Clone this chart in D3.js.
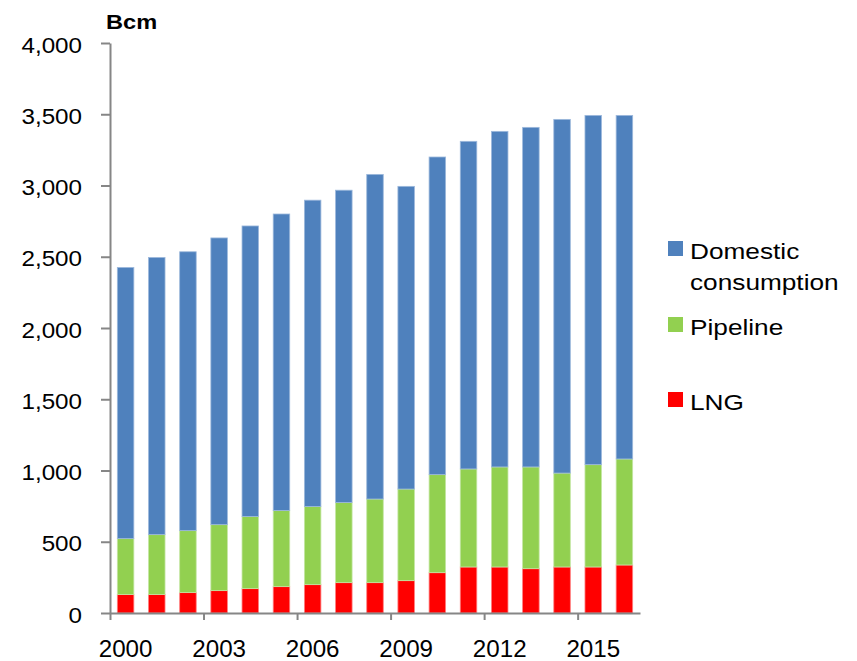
<!DOCTYPE html>
<html>
<head>
<meta charset="utf-8">
<script src="https://cdn.jsdelivr.net/npm/d3@7"></script>
<style>
  html, body { margin: 0; padding: 0; background: #fff; }
  svg { display: block; font-family: Arial, "Liberation Sans", sans-serif; }
</style>
</head>
<body>
<svg id="chart" width="857" height="661"></svg>
<script>
// Gas supply breakdown, billion cubic metres
const years = ["2000","2001","2002","2003","2004","2005","2006","2007","2008",
               "2009","2010","2011","2012","2013","2014","2015","2016"];
const lng      = [130, 130, 143, 157, 171, 185, 199, 213, 213, 227, 283, 323, 323, 311, 323, 323, 337];
const pipeline = [392, 420, 435, 463, 506, 534, 548, 562, 587, 643, 688, 688, 702, 714, 659, 718, 744];
const domestic = [1903, 1945, 1957, 2012, 2039, 2081, 2150, 2192, 2278, 2124, 2229, 2299, 2355, 2383, 2482, 2451, 2411];
const yTicks = [0, 500, 1000, 1500, 2000, 2500, 3000, 3500, 4000];
const xLabelYears = ["2000", "2003", "2006", "2009", "2012", "2015"];

const seriesKeys   = ["LNG", "Pipeline", "Domestic"];
const seriesColors = { LNG: "#FF0000", Pipeline: "#92D050", Domestic: "#4F81BD" };
const seriesEdges  = { LNG: "#FF7F7F", Pipeline: "#C4E6A4", Domestic: "#9DB9DC" };
const legendItems  = [
  { key: "Domestic", lines: ["Domestic", "consumption"] },
  { key: "Pipeline", lines: ["Pipeline"] },
  { key: "LNG",      lines: ["LNG"] }
];

const rows = years.map((yr, i) => ({ year: yr, LNG: lng[i], Pipeline: pipeline[i], Domestic: domestic[i] }));
const stacked = d3.stack().keys(seriesKeys)(rows);

const svg = d3.select("#chart");
const plotLeft = 110, plotRight = 640, plotTop = 43, plotBottom = 613;
const axisColor = "#868686";

const x = d3.scaleBand().domain(years).range([plotLeft, plotRight]).paddingInner(0.47).paddingOuter(0.235);
const xIdx = d3.scaleLinear().domain([0, years.length]).range([plotLeft, plotRight]);
const y = d3.scaleLinear().domain([0, 4000]).range([plotBottom, plotTop]);

// Stacked bars
svg.append("g").selectAll("g")
  .data(stacked).join("g")
    .attr("fill", d => seriesColors[d.key])
    .attr("stroke", d => seriesEdges[d.key])
    .attr("stroke-width", 0.8)
  .selectAll("rect")
  .data(d => d).join("rect")
    .attr("x", d => x(d.data.year))
    .attr("width", x.bandwidth())
    .attr("y", d => y(d[1]))
    .attr("height", d => y(d[0]) - y(d[1]));

// Y axis
const yAxis = svg.append("g")
  .attr("transform", `translate(${plotLeft},0)`)
  .call(d3.axisLeft(y).tickValues(yTicks).tickSize(9).tickSizeOuter(0).tickFormat(d3.format(",")));
yAxis.select(".domain").attr("stroke", axisColor).attr("stroke-width", 2);
yAxis.selectAll(".tick line").attr("stroke", axisColor).attr("stroke-width", 2);
yAxis.selectAll(".tick text")
  .attr("x", null)
  .attr("dy", "0.42em")
  .attr("transform", "translate(-28,0) scale(1.1,1)")
  .attr("fill", "#000")
  .style("font-size", "22px");

// X axis: ticks at every third category boundary
const xAxis = svg.append("g")
  .attr("transform", `translate(0,${plotBottom})`)
  .call(d3.axisBottom(xIdx).tickValues([0, 3, 6, 9, 12, 15]).tickSize(7).tickSizeOuter(0).tickFormat(""));
xAxis.select(".domain").attr("stroke", axisColor).attr("stroke-width", 2);
xAxis.selectAll(".tick line").attr("stroke", axisColor).attr("stroke-width", 2);

svg.append("g").selectAll("text")
  .data(xLabelYears).join("text")
    .attr("transform", d => `translate(${x(d) + x.bandwidth() / 2},657) scale(1.05,1)`)
    .attr("text-anchor", "middle")
    .attr("fill", "#000")
    .style("font-size", "23px")
    .text(d => d);

// Unit label
svg.append("text")
  .attr("transform", "translate(106,29) scale(1.18,1)")
  .attr("font-weight", "bold")
  .style("font-size", "20px")
  .attr("fill", "#000")
  .text("Bcm");

// Legend
const legendTops = { Domestic: 241, Pipeline: 317, LNG: 392 };
const legend = svg.append("g");
legendItems.forEach(item => {
  const t = legendTops[item.key];
  legend.append("rect")
    .attr("x", 668).attr("y", t).attr("width", 15).attr("height", 15)
    .attr("fill", seriesColors[item.key]);
  item.lines.forEach((line, j) => {
    legend.append("text")
      .attr("transform", `translate(690,${t + 18 + j * 31}) scale(1.22,1)`)
      .style("font-size", "21.5px")
      .attr("fill", "#000")
      .text(line);
  });
});
</script>
</body>
</html>
